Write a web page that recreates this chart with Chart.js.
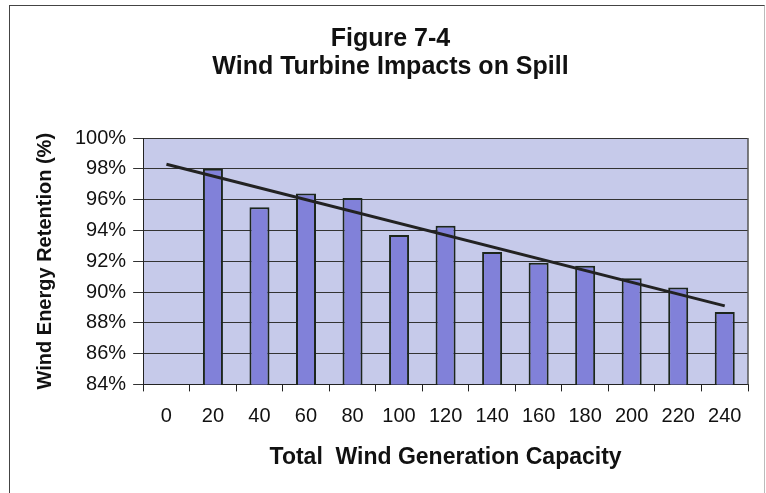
<!DOCTYPE html>
<html>
<head>
<meta charset="utf-8">
<script src="https://cdn.jsdelivr.net/npm/chart.js@4.4.1/dist/chart.umd.min.js"></script>
<style>
  body { margin: 0; background: #fff; }
  #wrap { position: relative; width: 766px; height: 493px; overflow: hidden; }
  #frame { position: absolute; left: 9px; top: 5px; width: 754px; height: 500px;
           border: 1px solid #444; border-right-color: #bbb; pointer-events: none; }
</style>
</head>
<body>
<div id="wrap">
  <canvas id="chart" width="766" height="493"></canvas>
  <div id="frame"></div>
</div>
<script>
// capacity categories (x axis)
const capacity = ['0', '20', '40', '60', '80', '100', '120', '140', '160', '180', '200', '220', '240'];

// retention per capacity, % (no bar at 0)
const retention = [null, 98.0, 95.5, 96.4, 96.1, 93.7, 94.3, 92.6, 91.9, 91.7, 90.9, 90.3, 88.7];

// linear trend line, only the two ends
const trendEnds = [98.3, null, null, null, null, null, null, null, null, null, null, null, 89.1];

const yTicks = { min: 84, max: 100, step: 2 };

const fontName = '"Liberation Sans", Arial, sans-serif';

// fill the plot area and draw its right edge
const plotBg = {
  id: 'plotBg',
  beforeDraw(chart) {
    const { ctx, chartArea: a } = chart;
    ctx.save();
    ctx.fillStyle = '#c6caea';
    ctx.fillRect(a.left, a.top, a.right - a.left, a.bottom - a.top);
    ctx.restore();
  },
  afterDraw(chart) {
    const { ctx, chartArea: a } = chart;
    ctx.save();
    ctx.strokeStyle = '#555';
    ctx.lineWidth = 1.5;
    ctx.beginPath();
    ctx.moveTo(a.right, a.top);
    ctx.lineTo(a.right, a.bottom);
    ctx.stroke();
    ctx.restore();
  }
};

const data = {
  labels: capacity,
  datasets: [
    {
      type: 'line',
      label: 'Trend',
      data: trendEnds,
      spanGaps: true,
      borderColor: '#222',
      borderWidth: 3,
      pointRadius: 0,
      order: 0
    },
    {
      type: 'bar',
      label: 'Retention',
      data: retention,
      backgroundColor: '#8181d9',
      borderColor: '#1c261c',
      borderWidth: 2,
      barPercentage: 0.43,
      categoryPercentage: 1,
      order: 1
    }
  ]
};

const config = {
  data,
  options: {
    responsive: false,
    animation: false,
    layout: { padding: { left: 33, right: 18, top: 25, bottom: 22 } },
    plugins: {
      legend: { display: false },
      tooltip: { enabled: false },
      title: {
        display: true,
        text: ['Figure 7-4', 'Wind Turbine Impacts on Spill'],
        color: '#111',
        font: { family: fontName, size: 25, weight: 'bold', lineHeight: 1.12 },
        padding: { top: 0, bottom: 57 }
      }
    },
    scales: {
      x: {
        offset: true,
        grid: { offset: true, drawOnChartArea: false, color: '#222', tickLength: 7 },
        border: { color: '#222', width: 1 },
        ticks: { color: '#111', font: { family: fontName, size: 20 }, padding: 13, maxRotation: 0 },
        title: {
          display: true,
          text: 'Total  Wind Generation Capacity',
          color: '#111',
          font: { family: fontName, size: 23, weight: 'bold' },
          padding: { top: 2, bottom: 0 }
        }
      },
      y: {
        min: yTicks.min,
        max: yTicks.max,
        grid: { color: '#333', lineWidth: 1, tickLength: 10 },
        border: { color: '#222', width: 1 },
        ticks: {
          stepSize: yTicks.step,
          color: '#111',
          font: { family: fontName, size: 20 },
          padding: 7,
          callback: (v) => v + '%'
        },
        title: {
          display: true,
          text: 'Wind Energy Retention (%)',
          color: '#111',
          font: { family: fontName, size: 20, weight: 'bold' },
          padding: { top: 0, bottom: 11 }
        }
      }
    }
  },
  plugins: [plotBg]
};

const ctx = document.getElementById('chart').getContext('2d');
const myChart = new Chart(ctx, config);
</script>
</body>
</html>
